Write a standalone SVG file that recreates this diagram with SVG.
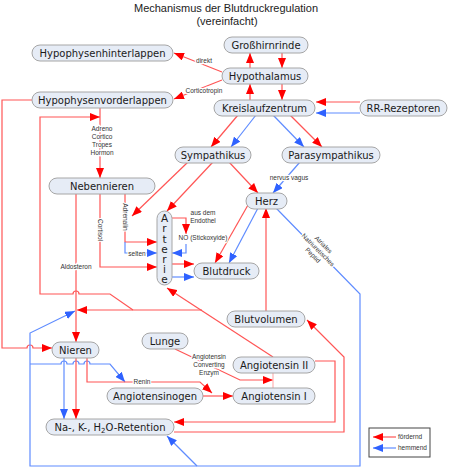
<svg xmlns="http://www.w3.org/2000/svg" width="450" height="467" viewBox="0 0 450 467">
<style>
.n rect{fill:#e6ecf6;stroke:#a6a6a6;stroke-width:1}
.n text{font-family:"DejaVu Sans",sans-serif;font-size:10px;fill:#1a1a1a;text-anchor:middle}
.r{fill:none;stroke:#ff5555;stroke-width:1.2}
.b{fill:none;stroke:#5f8cff;stroke-width:1.2}
.ra{marker-end:url(#ar)}
.ba{marker-end:url(#ab)}
.l{font-family:"Liberation Sans",Arial,sans-serif;font-size:6.5px;fill:#333;text-anchor:middle}
.h{paint-order:stroke fill;stroke:#fff;stroke-width:2.5px}
.t{font-family:"Liberation Sans",Arial,sans-serif;font-size:11px;fill:#222;text-anchor:middle}
</style>
<defs>
<marker id="ar" markerUnits="userSpaceOnUse" markerWidth="10" markerHeight="8" refX="10" refY="4" orient="auto"><path d="M0,0L10,4L0,8z" fill="#ff0000"/></marker>
<marker id="ab" markerUnits="userSpaceOnUse" markerWidth="10" markerHeight="8" refX="10" refY="4" orient="auto"><path d="M0,0L10,4L0,8z" fill="#2f62ff"/></marker>
</defs>
<text class="t" x="226" y="12">Mechanismus der Blutdruckregulation</text>
<text class="t" x="227" y="25">(vereinfacht)</text>

<g id="connectors">
<path class="r ra" d="M222,72L174,53"/>
<path class="r ra" d="M222,80L174,99"/>
<path class="r ra" d="M250,68V53"/>
<path class="r ra" d="M282,53V68"/>
<path class="r ra" d="M250,100V84"/>
<path class="r ra" d="M282,84V100"/>
<path class="r ra" d="M360,102H316"/>
<path class="b ba" d="M360,113H316"/>
<path class="r ra" d="M238,115L211,147"/>
<path class="b ba" d="M256,115L231,147"/>
<path class="b ba" d="M273,115L304,147"/>
<path class="r ra" d="M290,115L322,147"/>
<path class="r ra" d="M229,162L258,193"/>
<path class="b ba" d="M300,162L273,193"/>
<path class="r ra" d="M188,162L132,216"/>
<path class="r ra" d="M213,162L167,211"/>
<path class="r ra" d="M100,107V178"/>
<path class="r ra" d="M32,100H2V348H27a3,3 0 0 1 6,0H52"/>
<path class="r ra" d="M133,310L110,294H79a3,3 0 0 0 -6,0H40V117H100"/>
<path class="r ra" d="M76,193V342"/>
<path class="r ra" d="M100,193V267H157"/>
<path class="r ra" d="M125,193V242H157"/>
<path class="b ba" d="M125,242V253H157"/>
<path class="r ra" d="M172,218H186V234"/>
<path class="b ba" d="M186,244V253H172"/>
<path class="r ra" d="M172,264H194"/>
<path class="b ba" d="M172,277H194"/>
<path class="r ra" d="M248,205L215,263"/>
<path class="b ba" d="M258,208L229,263"/>
<path class="r ra" d="M266,311V208"/>
<path class="b ba" d="M276,208L360,294V466H30V333L75,311"/>
<path class="b ba" d="M197,466L167,436"/>
<path class="b ba" d="M30,364H61a3,3 0 0 1 6,0H73a3,3 0 0 1 6,0H84a3,3 0 0 1 6,0H110L125,382"/>
<path class="b ba" d="M64,357V419"/>
<path class="r ra" d="M76,357V419"/>
<path class="r ra" d="M87,357V382H200L212,393"/>
<path class="r ra" d="M203,396H233"/>
<path class="r ra" d="M175,349L240,380H273"/>
<path d="M273,373V388" fill="none" stroke="#ffb3b3" stroke-width="1.2"/>
<path class="r ra" d="M273,357L167,288"/>
<path class="r ra" d="M202,310H77"/>
<path class="r ra" d="M315,361H335V422H174"/>
<path class="r ra" d="M174,432H344V357L307,320"/>
<text class="l h" x="204" y="63">direkt</text>
<text class="l h" x="204" y="93">Corticotropin</text>
<text class="l h" x="102" y="131">Adreno</text>
<text class="l h" x="102" y="139">Cortico</text>
<text class="l h" x="102" y="147">Tropes</text>
<text class="l h" x="102" y="155">Hormon</text>
<text class="l h" x="289" y="180">nervus vagus</text>
<text class="l h" transform="translate(100,230) rotate(90)" y="2">Cortisol</text>
<text class="l h" transform="translate(125,217) rotate(90)" y="2">Adrenalin</text>
<text class="l h" x="137" y="256">selten</text>
<text class="l" x="203" y="215">aus dem</text>
<text class="l" x="203" y="223">Endothel</text>
<text class="l h" x="203" y="240">NO (Stickoxyide)</text>
<text class="l h" x="76" y="269">Aldosteron</text>
<g transform="translate(318,250) rotate(45)">
<text class="l h" y="-5.5">Atriales</text>
<text class="l h" y="2">Natriuretisches</text>
<text class="l h" y="9.5">Peptid</text>
</g>
<text class="l h" x="142" y="384">Renin</text>
<text class="l h" x="209" y="359">Angiotensin</text>
<text class="l h" x="209" y="367">Converting</text>
<text class="l h" x="209" y="375">Enzym</text>
</g>

<g id="n-hhl" class="n"><rect x="32" y="45" width="141" height="16" rx="8"/><text x="102.5" y="56.5">Hypophysenhinterlappen</text></g>
<g id="n-gross" class="n"><rect x="224" y="37" width="84" height="16" rx="8"/><text x="266" y="48.5">Großhirnrinde</text></g>
<g id="n-hypo" class="n"><rect x="222" y="68" width="86" height="16" rx="8"/><text x="265" y="79.5">Hypothalamus</text></g>
<g id="n-hvl" class="n"><rect x="32" y="92" width="141" height="16" rx="8"/><text x="102.5" y="103.5">Hypophysenvorderlappen</text></g>
<g id="n-kz" class="n"><rect x="214" y="100" width="101" height="16" rx="8"/><text x="264.5" y="111.5">Kreislaufzentrum</text></g>
<g id="n-rr" class="n"><rect x="360" y="100" width="87" height="16" rx="8"/><text x="403.5" y="111.5">RR-Rezeptoren</text></g>
<g id="n-symp" class="n"><rect x="175" y="147" width="76" height="16" rx="8"/><text x="213" y="158.5">Sympathikus</text></g>
<g id="n-para" class="n"><rect x="282" y="147" width="98" height="16" rx="8"/><text x="331" y="158.5">Parasympathikus</text></g>
<g id="n-herz" class="n"><rect x="246" y="193" width="41" height="16" rx="8"/><text x="266.5" y="204.5">Herz</text></g>
<g id="n-nn" class="n"><rect x="49" y="178" width="106" height="16" rx="8"/><text x="102" y="189.5">Nebennieren</text></g>
<g id="n-arterie" class="n"><rect x="157" y="211" width="15" height="74" rx="7.5"/>
<text x="164.5" y="248" style="font-size:10.5px;letter-spacing:-1.8px;writing-mode:vertical-rl;text-orientation:upright">Arterie</text></g>
<g id="n-bd" class="n"><rect x="194" y="263" width="65" height="16" rx="8"/><text x="226.5" y="274.5">Blutdruck</text></g>
<g id="n-bv" class="n"><rect x="227" y="311" width="78" height="16" rx="8"/><text x="266" y="322.5">Blutvolumen</text></g>
<g id="n-lunge" class="n"><rect x="142" y="333" width="46" height="16" rx="8"/><text x="165" y="344.5">Lunge</text></g>
<g id="n-nieren" class="n"><rect x="52" y="342" width="47" height="16" rx="8"/><text x="75.5" y="353.5">Nieren</text></g>
<g id="n-a2" class="n"><rect x="233" y="357" width="82" height="16" rx="8"/><text x="274" y="368.5">Angiotensin II</text></g>
<g id="n-agen" class="n"><rect x="107" y="388" width="96" height="16" rx="8"/><text x="155" y="399.5">Angiotensinogen</text></g>
<g id="n-a1" class="n"><rect x="233" y="388" width="82" height="16" rx="8"/><text x="274" y="399.5">Angiotensin I</text></g>
<g id="n-ret" class="n"><rect x="46" y="419" width="128" height="16" rx="8"/><text x="110" y="430.5">Na-, K-, H<tspan dy="2" style="font-size:7px">2</tspan><tspan dy="-2">O-Retention</tspan></text></g>

<g id="legend">
<rect x="369" y="428" width="61" height="29" fill="#fff" stroke="#444" stroke-width="1"/>
<path class="r ra" d="M396,437H373"/>
<path class="b ba" d="M396,448H373"/>
<text class="l" x="398" y="439" style="text-anchor:start">fördernd</text>
<text class="l" x="398" y="450" style="text-anchor:start">hemmend</text>
</g>
</svg>
